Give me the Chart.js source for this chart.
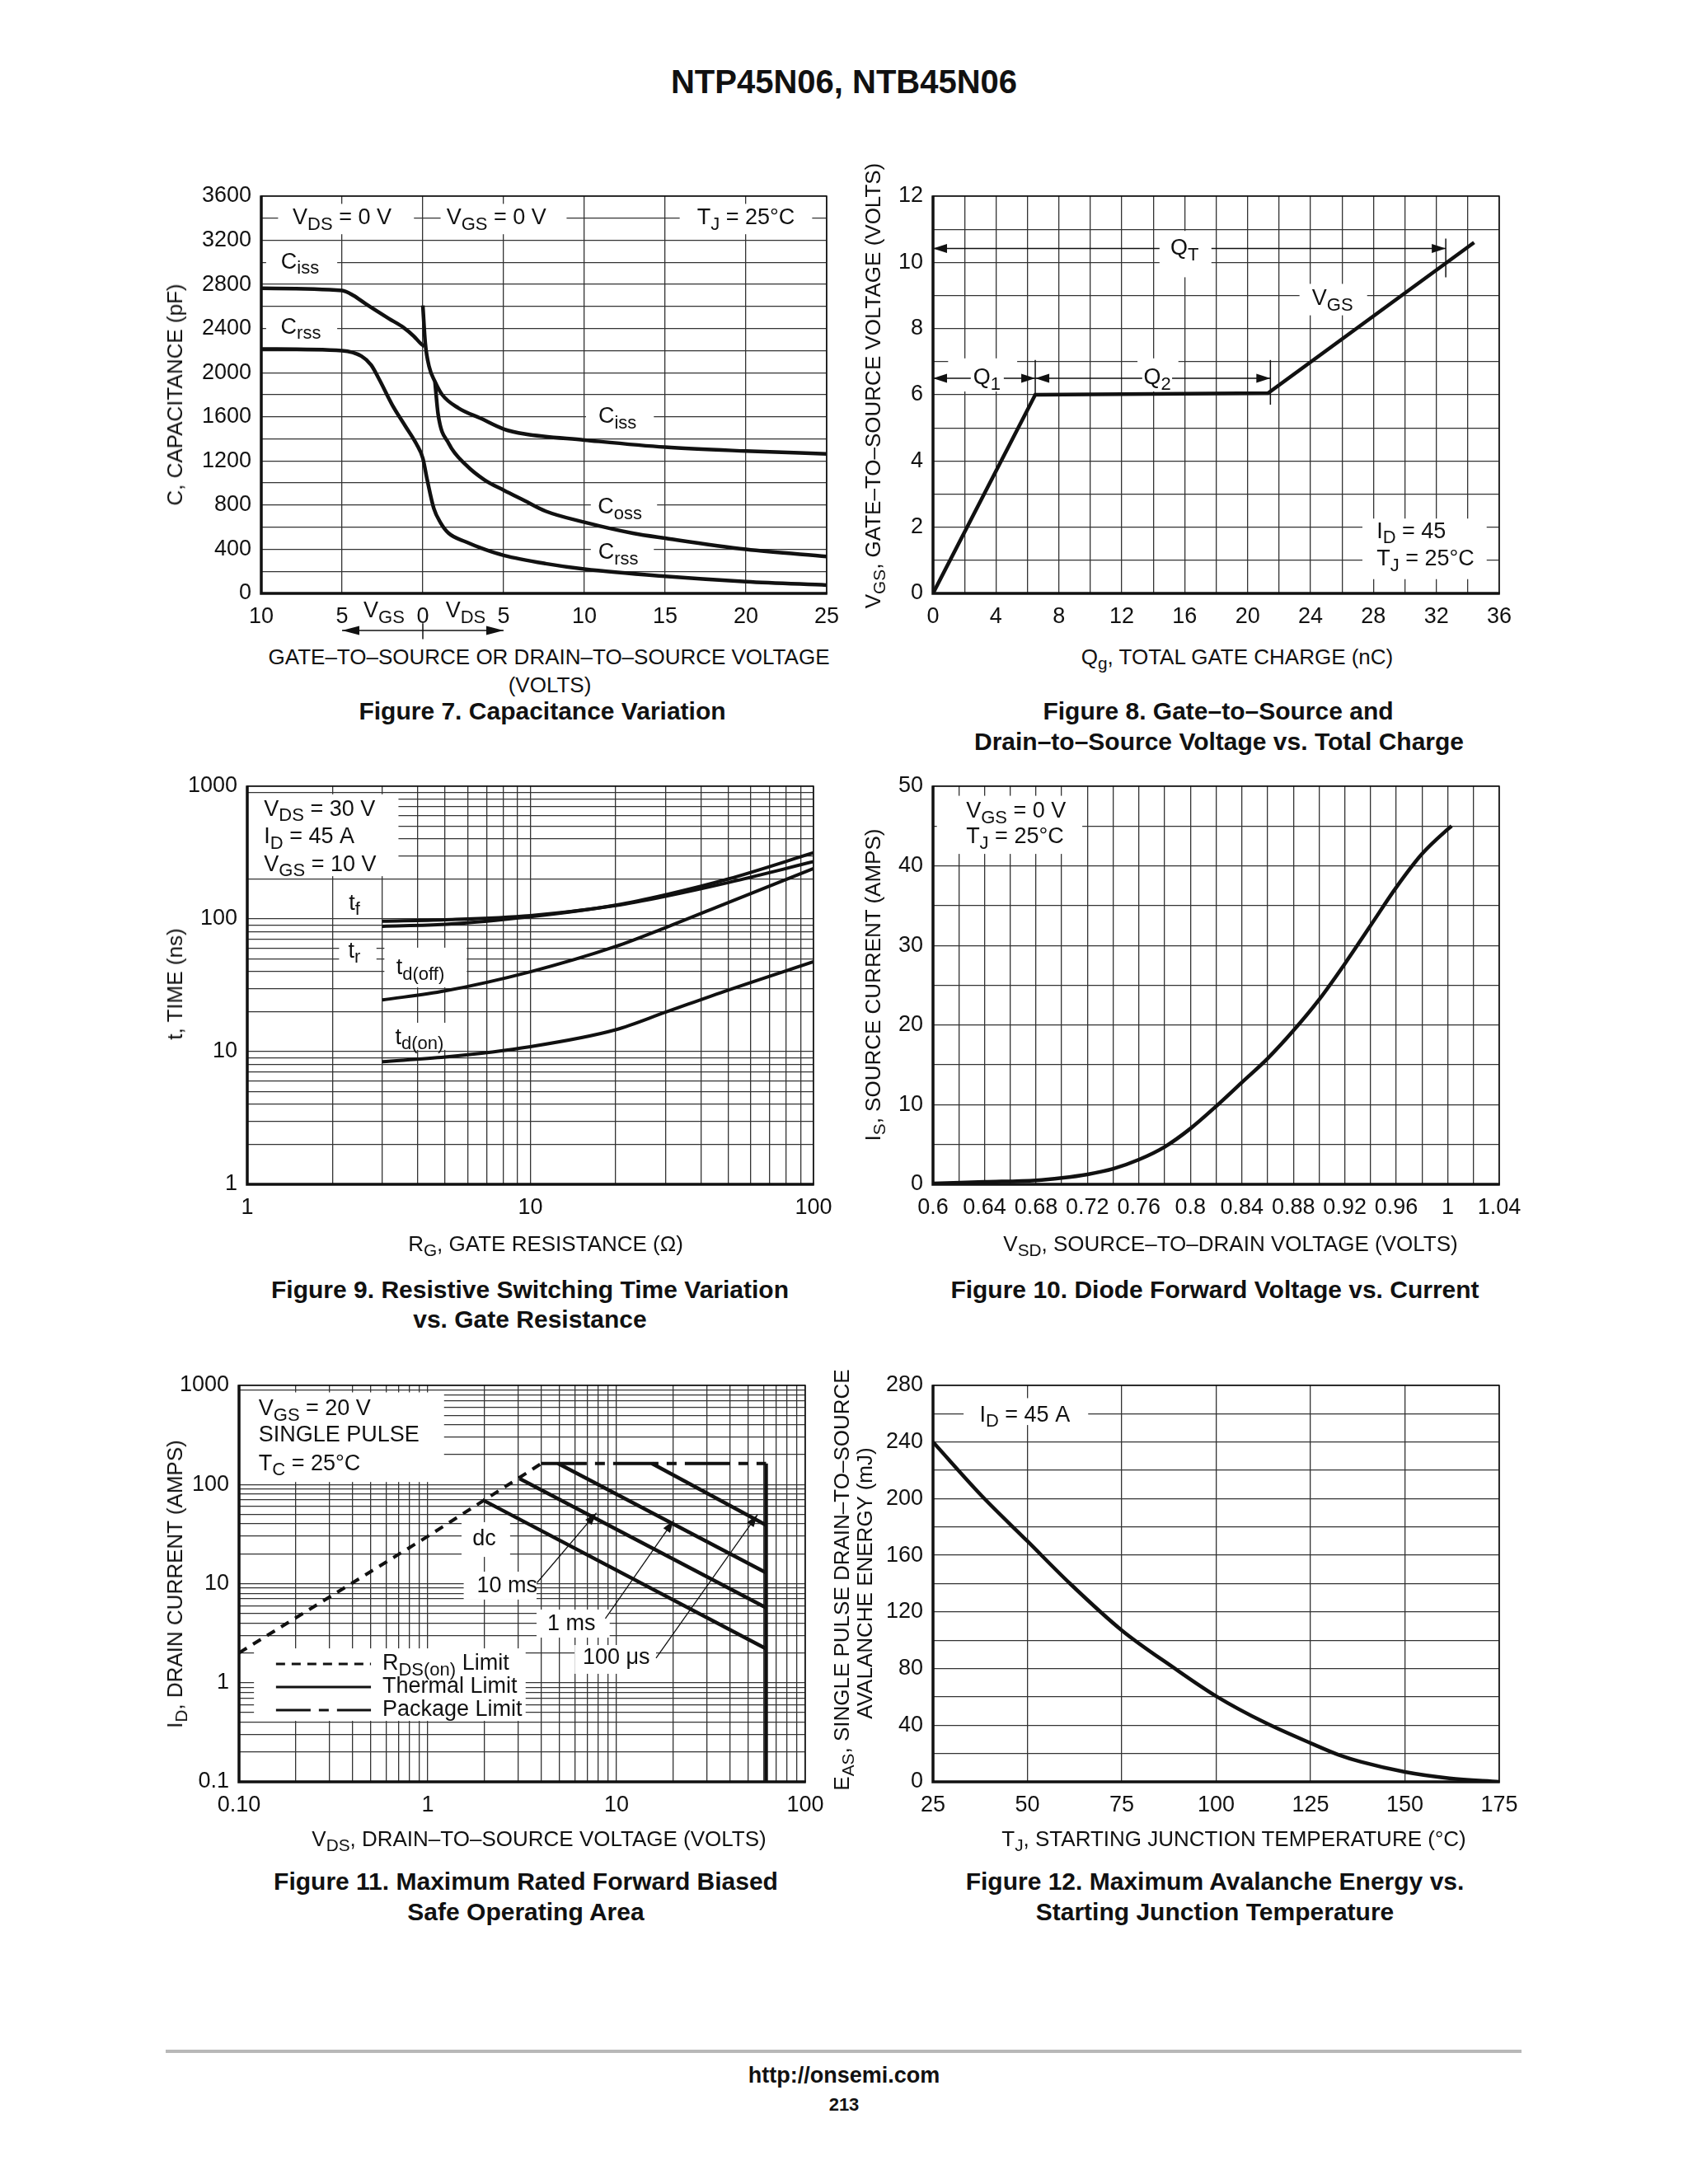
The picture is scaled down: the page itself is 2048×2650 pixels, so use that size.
<!DOCTYPE html>
<html>
<head>
<meta charset="utf-8">
<title>NTP45N06, NTB45N06</title>
<script src="https://cdn.jsdelivr.net/npm/chart.js@4.4.1/dist/chart.umd.min.js"></script>
<style>
  body { margin: 0; background: #fff; }
  #page { position: relative; width: 2048px; height: 2650px; overflow: hidden;
          font-family: "Liberation Sans", Arial, Helvetica, sans-serif; color: #111; }
  .t { position: absolute; white-space: nowrap; transform: translate(-50%, -50%);
       font-size: 26px; line-height: 1; z-index: 5; }
  .ty { transform: translate(-50%, -50%) rotate(-90deg); }
  .cap { font-weight: bold; font-size: 30px; }
  sub { font-size: 80%; vertical-align: -0.3em; line-height: 0; }
  canvas { position: absolute; }
</style>
</head>
<body>
<div id="page">
  <div class="t" style="left:1024px;top:99px;font-size:40px;font-weight:bold">NTP45N06, NTB45N06</div>

  <!-- Figure 7 -->
  <div class="t ty" style="left:212px;top:479px">C, CAPACITANCE (pF)</div>
  <div class="t" style="left:666px;top:797px">GATE–TO–SOURCE OR DRAIN–TO–SOURCE VOLTAGE</div>
  <div class="t" style="left:667px;top:831px">(VOLTS)</div>
  <div class="t cap" style="left:658px;top:863px">Figure 7. Capacitance Variation</div>

  <!-- Figure 8 -->
  <div class="t ty" style="left:1059px;top:468px">V<sub>GS</sub>, GATE–TO–SOURCE VOLTAGE (VOLTS)</div>
  <div class="t" style="left:1501px;top:797px">Q<sub>g</sub>, TOTAL GATE CHARGE (nC)</div>
  <div class="t cap" style="left:1478px;top:863px">Figure 8. Gate–to–Source and</div>
  <div class="t cap" style="left:1479px;top:900px">Drain–to–Source Voltage vs. Total Charge</div>

  <!-- Figure 9 -->
  <div class="t ty" style="left:212px;top:1194px">t, TIME (ns)</div>
  <div class="t" style="left:662px;top:1509px">R<sub>G</sub>, GATE RESISTANCE (Ω)</div>
  <div class="t cap" style="left:643px;top:1565px">Figure 9. Resistive Switching Time Variation</div>
  <div class="t cap" style="left:643px;top:1601px">vs. Gate Resistance</div>

  <!-- Figure 10 -->
  <div class="t ty" style="left:1059px;top:1195px">I<sub>S</sub>, SOURCE CURRENT (AMPS)</div>
  <div class="t" style="left:1493px;top:1509px">V<sub>SD</sub>, SOURCE–TO–DRAIN VOLTAGE (VOLTS)</div>
  <div class="t cap" style="left:1474px;top:1565px">Figure 10. Diode Forward Voltage vs. Current</div>

  <!-- Figure 11 -->
  <div class="t ty" style="left:212px;top:1922px">I<sub>D</sub>, DRAIN CURRENT (AMPS)</div>
  <div class="t" style="left:654px;top:2231px">V<sub>DS</sub>, DRAIN–TO–SOURCE VOLTAGE (VOLTS)</div>
  <div class="t cap" style="left:638px;top:2283px">Figure 11. Maximum Rated Forward Biased</div>
  <div class="t cap" style="left:638px;top:2320px">Safe Operating Area</div>

  <!-- Figure 12 -->
  <div class="t ty" style="left:1021px;top:1917px">E<sub>AS</sub>, SINGLE PULSE DRAIN–TO–SOURCE</div>
  <div class="t ty" style="left:1049px;top:1921px">AVALANCHE ENERGY (mJ)</div>
  <div class="t" style="left:1497px;top:2231px">T<sub>J</sub>, STARTING JUNCTION TEMPERATURE (°C)</div>
  <div class="t cap" style="left:1474px;top:2283px">Figure 12. Maximum Avalanche Energy vs.</div>
  <div class="t cap" style="left:1474px;top:2320px">Starting Junction Temperature</div>

  <!-- footer -->
  <div style="position:absolute;left:201px;top:2487px;width:1645px;height:4px;background:#b8b8b8"></div>
  <div class="t" style="left:1024px;top:2518px;font-size:27px;font-weight:bold">http://onsemi.com</div>
  <div class="t" style="left:1024px;top:2554px;font-size:22px;font-weight:bold">213</div>
</div>

<script>
// ---- Figure 7: capacitance (left half is VGS, drawn as negative x) ----
const capXTicks = [-10, -5, 0, 5, 10, 15, 20, 25];
const capXLabels = ['10', '5', '0', '5', '10', '15', '20', '25'];
const capYTicks = [0, 400, 800, 1200, 1600, 2000, 2400, 2800, 3200, 3600];
const cissVgsX = [-10, -5, -4.3, -3.5, -2.1, -1.2, -0.55, -0.1, 0.1];
const cissVgsY = [2765, 2745, 2700, 2620, 2490, 2410, 2330, 2260, 2240];
const cissVdsX = [0, 0.15, 0.4, 0.75, 1.2, 2.2, 3.6, 5, 6.3, 10, 15, 20, 25];
const cissVdsY = [2610, 2270, 2050, 1920, 1800, 1680, 1585, 1490, 1445, 1390, 1325, 1290, 1265];
const cossX = [0.75, 0.95, 1.6, 2.7, 3.8, 5, 6.3, 7.6, 10, 13, 15, 20, 25];
const cossY = [1920, 1620, 1360, 1160, 1030, 935, 840, 745, 645, 545, 500, 400, 335];
const crssX = [-10, -5, -3.8, -3.2, -2.7, -1.9, -1.1, -0.4, 0, 0.27, 0.68, 1.1, 1.6, 2.7, 3.8, 5, 7.6, 10, 15, 20, 25];
const crssY = [2215, 2200, 2150, 2070, 1940, 1710, 1520, 1355, 1225, 1030, 770, 640, 545, 465, 400, 345, 270, 220, 155, 107, 75];

// ---- Figure 8: gate charge ----
const qgXTicks = [0, 4, 8, 12, 16, 20, 24, 28, 32, 36];
const vgsYTicks = [0, 2, 4, 6, 8, 10, 12];
const qgX = [0, 6.5, 21.3, 34.4];
const vgsY = [0, 6.0, 6.05, 10.6];

// ---- Figure 9: switching times ----
const rgTicks = [1, 10, 100];
const timeTicks = [1, 10, 100, 1000];
const rgX = [3, 5, 10, 20, 30, 50, 100];
const tfY = [96, 98.5, 106, 126, 148, 188, 270];
const trY = [88, 91, 104, 127, 152, 200, 315];
const tdOffY = [24.5, 28.7, 40, 62, 86, 133, 240];
const tdOnY = [8.4, 9.1, 10.9, 14.6, 19.8, 29.1, 47.6];

// ---- Figure 10: diode forward ----
const vsdTicks = [0.6, 0.64, 0.68, 0.72, 0.76, 0.8, 0.84, 0.88, 0.92, 0.96, 1, 1.04];
const vsdLabels = ['0.6', '0.64', '0.68', '0.72', '0.76', '0.8', '0.84', '0.88', '0.92', '0.96', '1', '1.04'];
const isTicks = [0, 10, 20, 30, 40, 50];
const vsdX = [0.6, 0.64, 0.68, 0.7, 0.72, 0.74, 0.76, 0.78, 0.8, 0.82, 0.84, 0.86, 0.88, 0.9, 0.92, 0.94, 0.96, 0.98, 1.0, 1.003];
const isY = [0.1, 0.3, 0.5, 0.8, 1.25, 1.95, 3.1, 4.7, 7.0, 9.8, 12.8, 15.8, 19.3, 23.2, 27.7, 32.5, 37.3, 41.5, 44.6, 45];

// ---- Figure 11: safe operating area ----
const soaXTicks = [0.1, 1, 10, 100];
const soaXLabels = ['0.10', '1', '10', '100'];
const soaYTicks = [0.1, 1, 10, 100, 1000];
const soaYLabels = ['0.1', '1', '10', '100', '1000'];
const rdsX = [0.1, 1, 4.0];
const rdsY = [2, 30, 163];
const pkgX = [4.0, 62];
const pkgY = [163, 163];
const dcX = [1.95, 62];
const dcY = [70, 2.2];
const ms10X = [3.06, 62];
const ms10Y = [115, 5.7];
const ms1X = [4.9, 62];
const ms1Y = [163, 12.9];
const us100X = [15.4, 62];
const us100Y = [163, 39];
const vLimX = [62, 62];
const vLimY = [163, 0.1];

// ---- Figure 12: avalanche energy ----
const tjTicks = [25, 50, 75, 100, 125, 150, 175];
const easTicks = [0, 40, 80, 120, 160, 200, 240, 280];
const tjX = [25, 37.9, 50, 61.3, 75, 88.8, 100, 112.8, 125.3, 132.5, 138.5, 150, 161.8, 175];
const easY = [240, 202, 170, 140, 107, 80.5, 60.5, 42, 27, 19, 14, 7, 2.5, 0];

const INK = '#111';
const GRID = '#333';
const FONT = '"Liberation Sans", Arial, Helvetica, sans-serif';
const PAD = { l: 130, t: 30, r: 50, b: 60 };
const LW = 4.5;

function steps(a, b, step) {
  const out = [];
  for (let i = 0; a + i * step <= b + step / 1000; i++) out.push(Math.round((a + i * step) * 1e6) / 1e6);
  return out;
}

function logGrid(lo, hi) {
  const out = [];
  for (let e = Math.floor(Math.log10(lo)); e <= Math.ceil(Math.log10(hi)); e++) {
    for (let m = 1; m <= 9; m++) {
      const v = Number((m * Math.pow(10, e)).toPrecision(6));
      if (v >= lo * 0.999 && v <= hi * 1.001) out.push(v);
    }
  }
  return out;
}

function labeler(values, texts) {
  return v => {
    const i = values.findIndex(t => Math.abs(t - v) < 1e-6 * Math.max(1, Math.abs(t)));
    if (i < 0) return '';
    return texts ? texts[i] : String(values[i]);
  };
}

function axis(type, min, max, grid, tickVals, tickTexts, isX) {
  return {
    type, min, max,
    afterBuildTicks: s => { s.ticks = grid.map(v => ({ value: v })); },
    afterFit: s => { if (isX) s.height = PAD.b; else s.width = PAD.l; },
    ticks: {
      autoSkip: false, maxRotation: 0, minRotation: 0, padding: 12, color: INK,
      font: { family: FONT, size: 27 },
      callback: labeler(tickVals, tickTexts)
    },
    grid: { color: GRID, lineWidth: 1.3, drawTicks: false },
    border: { display: false }
  };
}

function series(xs, ys, extra) {
  return Object.assign({
    data: xs.map((x, i) => ({ x, y: ys[i] })),
    borderColor: INK, borderWidth: LW, pointRadius: 0, fill: false,
    cubicInterpolationMode: 'monotone'
  }, extra || {});
}

function straight(xs, ys, extra) {
  return series(xs, ys, Object.assign({ cubicInterpolationMode: 'default', tension: 0 }, extra || {}));
}

// rich text: "V_{DS} = 0 V" -> V with subscript DS
function parseRich(str) {
  const parts = [];
  const re = /_\{([^}]*)\}/g;
  let last = 0, m;
  while ((m = re.exec(str))) {
    if (m.index > last) parts.push({ t: str.slice(last, m.index), sub: false });
    parts.push({ t: m[1], sub: true });
    last = re.lastIndex;
  }
  if (last < str.length) parts.push({ t: str.slice(last), sub: false });
  return parts;
}

function drawRich(ctx, str, x, y, align, size) {
  size = size || 27;
  const parts = parseRich(str);
  const subSize = Math.round(size * 0.8);
  let w = 0;
  parts.forEach(p => {
    ctx.font = `${p.sub ? subSize : size}px ${FONT}`;
    p.w = ctx.measureText(p.t).width;
    w += p.w;
  });
  let cx = align === 'center' ? x - w / 2 : (align === 'right' ? x - w : x);
  ctx.textAlign = 'left';
  ctx.textBaseline = 'middle';
  ctx.fillStyle = INK;
  parts.forEach(p => {
    ctx.font = `${p.sub ? subSize : size}px ${FONT}`;
    ctx.fillText(p.t, cx, p.sub ? y + size * 0.3 : y);
    cx += p.w;
  });
}

function arrowHead(ctx, x1, y1, x2, y2, len, half) {
  const a = Math.atan2(y2 - y1, x2 - x1);
  const bx = x2 - len * Math.cos(a), by = y2 - len * Math.sin(a);
  ctx.beginPath();
  ctx.moveTo(x2, y2);
  ctx.lineTo(bx + half * Math.sin(a), by - half * Math.cos(a));
  ctx.lineTo(bx - half * Math.sin(a), by + half * Math.cos(a));
  ctx.closePath();
  ctx.fill();
}

function notesPlugin(notes) {
  return {
    id: 'notes',
    beforeDatasetsDraw(chart) {
      const ctx = chart.ctx, sx = chart.scales.x, sy = chart.scales.y;
      ctx.save();
      ctx.fillStyle = '#fff';
      notes.filter(n => n.box).forEach(n => {
        const x1 = sx.getPixelForValue(n.box[0]), y1 = sy.getPixelForValue(n.box[1]);
        const x2 = sx.getPixelForValue(n.box[2]), y2 = sy.getPixelForValue(n.box[3]);
        ctx.fillRect(Math.min(x1, x2), Math.min(y1, y2), Math.abs(x2 - x1), Math.abs(y2 - y1));
      });
      ctx.restore();
    },
    afterDatasetsDraw(chart) {
      const ctx = chart.ctx, a = chart.chartArea, sx = chart.scales.x, sy = chart.scales.y;
      ctx.save();
      ctx.strokeStyle = INK;
      ctx.lineWidth = 1.5;
      ctx.strokeRect(a.left, a.top, a.right - a.left, a.bottom - a.top);
      ctx.lineWidth = 3.5;
      ctx.beginPath();
      ctx.moveTo(a.left, a.top - 0.75);
      ctx.lineTo(a.left, a.bottom);
      ctx.lineTo(a.right + 0.75, a.bottom);
      ctx.stroke();

      notes.forEach(n => {
        if (n.seg) {
          const x1 = sx.getPixelForValue(n.seg[0]), y1 = sy.getPixelForValue(n.seg[1]);
          const x2 = sx.getPixelForValue(n.seg[2]), y2 = sy.getPixelForValue(n.seg[3]);
          ctx.strokeStyle = INK;
          ctx.fillStyle = INK;
          ctx.lineWidth = n.lw || 1.5;
          ctx.setLineDash(n.dash || []);
          ctx.beginPath();
          ctx.moveTo(x1, y1);
          ctx.lineTo(x2, y2);
          ctx.stroke();
          ctx.setLineDash([]);
          const hl = n.hl || 17, hw = n.hw || 5.5;
          if (n.head === 'end' || n.head === 'both') arrowHead(ctx, x1, y1, x2, y2, hl, hw);
          if (n.head === 'start' || n.head === 'both') arrowHead(ctx, x2, y2, x1, y1, hl, hw);
        }
        if (n.text) {
          drawRich(ctx, n.text, sx.getPixelForValue(n.at[0]), sy.getPixelForValue(n.at[1]), n.align || 'center', n.size);
        }
      });
      ctx.restore();
    }
  };
}

function buildChart(plot, scales, datasets, notes) {
  const canvas = document.createElement('canvas');
  const w = plot.r - plot.l + PAD.l + PAD.r;
  const h = plot.b - plot.t + PAD.t + PAD.b;
  canvas.width = w;
  canvas.height = h;
  canvas.style.left = (plot.l - PAD.l) + 'px';
  canvas.style.top = (plot.t - PAD.t) + 'px';
  canvas.style.width = w + 'px';
  canvas.style.height = h + 'px';
  document.getElementById('page').appendChild(canvas);

  return new Chart(canvas.getContext('2d'), {
    type: 'line',
    data: { datasets },
    options: {
      responsive: false,
      animation: false,
      devicePixelRatio: 1,
      events: [],
      layout: { padding: { left: 0, top: PAD.t, right: PAD.r, bottom: 0 }, autoPadding: false },
      scales,
      plugins: { legend: { display: false }, tooltip: { enabled: false } }
    },
    plugins: [notesPlugin(notes)]
  });
}

function init() {
  // Figure 7
  buildChart({ l: 317, t: 238, r: 1003, b: 720 }, {
    x: axis('linear', -10, 25, capXTicks, capXTicks, capXLabels, true),
    y: axis('linear', 0, 3600, steps(0, 3600, 200), capYTicks, null, false)
  }, [
    series(cissVgsX, cissVgsY),
    series(cissVdsX, cissVdsY),
    series(cossX, cossY),
    series(crssX, crssY)
  ], [
    { box: [-8.96, 3530, -0.55, 3255] }, { text: 'V_{DS} = 0 V', at: [-5.0, 3400] },
    { box: [1.1, 3530, 8.9, 3255] }, { text: 'V_{GS} = 0 V', at: [4.55, 3400] },
    { box: [15.9, 3530, 24.1, 3255] }, { text: 'T_{J} = 25°C', at: [20, 3400] },
    { box: [-9.7, 3125, -5.3, 2850] }, { text: 'C_{iss}', at: [-7.6, 3000] },
    { box: [-9.7, 2540, -5.3, 2265] }, { text: 'C_{rss}', at: [-7.55, 2410] },
    { box: [10.1, 1730, 14.3, 1455] }, { text: 'C_{iss}', at: [12.05, 1600] },
    { box: [10.4, 900, 14.5, 640] }, { text: 'C_{oss}', at: [12.2, 780] },
    { box: [10.4, 490, 14.3, 265] }, { text: 'C_{rss}', at: [12.1, 370] },
    { text: 'V_{GS}', at: [-2.4, -160] },
    { text: 'V_{DS}', at: [2.65, -160] },
    { seg: [-5, -336, 5, -336], head: 'both', lw: 1.5, hl: 21, hw: 5.5 },
    { seg: [0, -270, 0, -415], lw: 1.5 }
  ]);

  // Figure 8
  buildChart({ l: 1132, t: 238, r: 1819, b: 720 }, {
    x: axis('linear', 0, 36, steps(0, 36, 2), qgXTicks, null, true),
    y: axis('linear', 0, 12, steps(0, 12, 1), vgsYTicks, null, false)
  }, [
    straight(qgX, vgsY)
  ], [
    { box: [14.4, 10.95, 17.7, 9.55] }, { text: 'Q_{T}', at: [16.0, 10.42] },
    { seg: [14.4, 10.42, 0, 10.42], head: 'end' },
    { seg: [17.7, 10.42, 32.6, 10.42], head: 'end' },
    { seg: [32.6, 10.72, 32.6, 9.55] },
    { box: [0.96, 7.1, 5.35, 6.1] }, { text: 'Q_{1}', at: [3.43, 6.5] },
    { seg: [2.4, 6.5, 0, 6.5], head: 'end' },
    { seg: [4.5, 6.5, 6.5, 6.5], head: 'end' },
    { box: [13.0, 7.1, 15.6, 6.1] }, { text: 'Q_{2}', at: [14.26, 6.5] },
    { seg: [13.3, 6.5, 6.5, 6.5], head: 'end' },
    { seg: [15.2, 6.5, 21.45, 6.5], head: 'end' },
    { seg: [6.5, 7.05, 6.5, 6.0] },
    { seg: [21.45, 7.05, 21.45, 5.7] },
    { box: [23.3, 9.35, 27.6, 8.4] }, { text: 'V_{GS}', at: [25.4, 8.9] },
    { box: [27.3, 2.26, 35.2, 0.43] },
    { text: 'I_{D} = 45', at: [28.2, 1.86], align: 'left' },
    { text: 'T_{J} = 25°C', at: [28.2, 1.03], align: 'left' }
  ]);

  // Figure 9
  buildChart({ l: 300, t: 954, r: 987, b: 1437 }, {
    x: axis('logarithmic', 1, 100, logGrid(1, 100), rgTicks, null, true),
    y: axis('logarithmic', 1, 1000, logGrid(1, 1000), timeTicks, null, false)
  }, [
    series(rgX, tfY, { borderWidth: 4 }),
    series(rgX, trY, { borderWidth: 4 }),
    series(rgX, tdOffY, { borderWidth: 4 }),
    series(rgX, tdOnY, { borderWidth: 4 })
  ], [
    { box: [1.0, 870, 3.42, 210] },
    { text: 'V_{DS} = 30 V', at: [1.146, 668], align: 'left' },
    { text: 'I_{D} = 45 A', at: [1.146, 414], align: 'left' },
    { text: 'V_{GS} = 10 V', at: [1.146, 256], align: 'left' },
    { text: 't_{f}', at: [2.39, 131] },
    { box: [2.11, 68.9, 2.86, 45.5] }, { text: 't_{r}', at: [2.39, 57] },
    { box: [3.05, 60.7, 5.96, 30.5] }, { text: 't_{d(off)}', at: [3.36, 42.7], align: 'left' },
    { box: [3.05, 16.5, 5.74, 10.3] }, { text: 't_{d(on)}', at: [3.33, 12.7], align: 'left' }
  ]);

  // Figure 10
  buildChart({ l: 1132, t: 954, r: 1819, b: 1437 }, {
    x: axis('linear', 0.6, 1.04, steps(0.6, 1.04, 0.02), vsdTicks, vsdLabels, true),
    y: axis('linear', 0, 50, steps(0, 50, 5), isTicks, null, false)
  }, [
    series(vsdX, isY)
  ], [
    { box: [0.603, 48.8, 0.716, 41.5] },
    { text: 'V_{GS} = 0 V', at: [0.6257, 46.8], align: 'left' },
    { text: 'T_{J} = 25°C', at: [0.6257, 43.6], align: 'left' }
  ]);

  // Figure 11
  buildChart({ l: 290, t: 1681, r: 977, b: 2162 }, {
    x: axis('logarithmic', 0.1, 100, logGrid(0.1, 100), soaXTicks, soaXLabels, true),
    y: axis('logarithmic', 0.1, 1000, logGrid(0.1, 1000), soaYTicks, soaYLabels, false)
  }, [
    straight(rdsX, rdsY, { borderWidth: 4, borderDash: [11, 9] }),
    straight(pkgX, pkgY, { borderWidth: 4, borderDash: [55, 10, 12, 10] }),
    straight(dcX, dcY),
    straight(ms10X, ms10Y),
    straight(ms1X, ms1Y),
    straight(us100X, us100Y),
    straight(vLimX, vLimY)
  ], [
    { box: [0.1, 850, 1.22, 106] },
    { text: 'V_{GS} = 20 V', at: [0.127, 574], align: 'left' },
    { text: 'SINGLE PULSE', at: [0.127, 311], align: 'left' },
    { text: 'T_{C} = 25°C', at: [0.127, 162], align: 'left' },
    { box: [1.51, 41.7, 2.73, 18.6] }, { text: 'dc', at: [1.99, 28] },
    { box: [1.55, 13.2, 3.77, 6.9] }, { text: '10 ms', at: [2.63, 9.36] },
    { box: [3.77, 5.47, 9.2, 2.85] }, { text: '1 ms', at: [5.76, 3.9] },
    { box: [6.0, 2.4, 16.2, 1.23] }, { text: '100 μs', at: [9.97, 1.77] },
    { seg: [3.79, 10.2, 7.83, 51.7], head: 'end', lw: 1.3, hl: 15, hw: 5 },
    { seg: [8.73, 4.45, 20.1, 43.4], head: 'end', lw: 1.3, hl: 15, hw: 5 },
    { seg: [16.2, 1.77, 55.8, 49.5], head: 'end', lw: 1.3, hl: 15, hw: 5 },
    { box: [0.12, 2.22, 3.3, 0.412] },
    { seg: [0.157, 1.545, 0.5, 1.545], lw: 3, dash: [11, 8] },
    { seg: [0.157, 0.904, 0.5, 0.904], lw: 3 },
    { seg: [0.157, 0.529, 0.5, 0.529], lw: 3, dash: [42, 10, 12, 10] },
    { text: 'R_{DS(on)} Limit', at: [0.575, 1.545], align: 'left' },
    { text: 'Thermal Limit', at: [0.575, 0.904], align: 'left' },
    { text: 'Package Limit', at: [0.575, 0.529], align: 'left' }
  ]);

  // Figure 12
  buildChart({ l: 1132, t: 1681, r: 1819, b: 2162 }, {
    x: axis('linear', 25, 175, tjTicks, tjTicks, null, true),
    y: axis('linear', 0, 280, steps(0, 280, 20), easTicks, null, false)
  }, [
    series(tjX, easY)
  ], [
    { box: [33.1, 271, 66.1, 252] },
    { text: 'I_{D} = 45 A', at: [49.3, 259] }
  ]);
}

document.addEventListener('DOMContentLoaded', init);
</script>
</body>
</html>
